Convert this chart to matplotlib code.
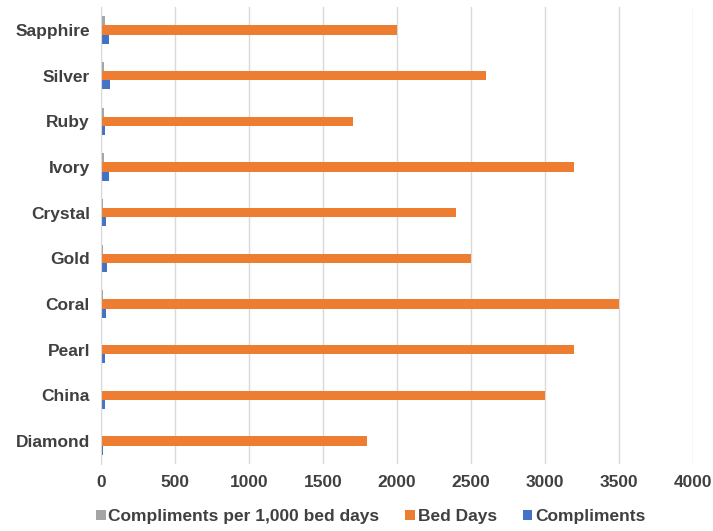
import numpy as np
import matplotlib
matplotlib.use("Agg")
import matplotlib.pyplot as plt

plt.rcParams['font.family'] = ['Liberation Sans', 'DejaVu Sans']

# Wards listed bottom to top
wards = ["Diamond", "China", "Pearl", "Coral", "Gold",
         "Crystal", "Ivory", "Ruby", "Silver", "Sapphire"]
bed_days = [1800, 3000, 3200, 3500, 2500, 2400, 3200, 1700, 2600, 2000]
compliments = [10, 25, 28, 35, 38, 35, 55, 30, 60, 55]
per_1000 = [5.6, 8.3, 8.8, 10.0, 15.2, 14.6, 17.2, 17.6, 23.1, 27.5]

c_gray = "#A5A5A5"
c_orange = "#ED7D31"
c_blue = "#4472C4"
txt = "#404040"

fig = plt.figure(figsize=(7.13, 5.31), dpi=100)
ax = fig.add_axes([0.1417, 0.1266, 0.830, 0.8598])

y = np.arange(len(wards))
h = 0.2
ax.barh(y - h, compliments, height=h, color=c_blue, label="Compliments")
ax.barh(y, bed_days, height=h, color=c_orange, label="Bed Days")
ax.barh(y + h, per_1000, height=h, color=c_gray, label="Compliments per 1,000 bed days")

ax.set_xlim(0, 4000)
ax.set_ylim(-0.5, len(wards) - 0.5)
ax.set_xticks(np.arange(0, 4001, 500))
ax.set_yticks(y)
ax.set_yticklabels(wards)

ax.grid(axis="x", color="#D9D9D9", linewidth=1)
ax.set_axisbelow(True)
for s in ["top", "right", "bottom"]:
    ax.spines[s].set_visible(False)
ax.spines["left"].set_color("#D9D9D9")
ax.tick_params(axis="both", length=0, labelsize=12.5, labelcolor=txt, pad=8)
for lab in ax.get_xticklabels() + ax.get_yticklabels():
    lab.set_fontweight("bold")

handles, labels = ax.get_legend_handles_labels()
leg = fig.legend(handles[::-1], labels[::-1], loc="center", bbox_to_anchor=(0.52, 0.027),
                 ncol=3, frameon=False, handlelength=0.55, handleheight=0.55,
                 handletextpad=0.15, columnspacing=1.5,
                 prop={"size": 12.5, "weight": "bold"})
for t in leg.get_texts():
    t.set_color(txt)

fig.savefig("out.png", dpi=100)
